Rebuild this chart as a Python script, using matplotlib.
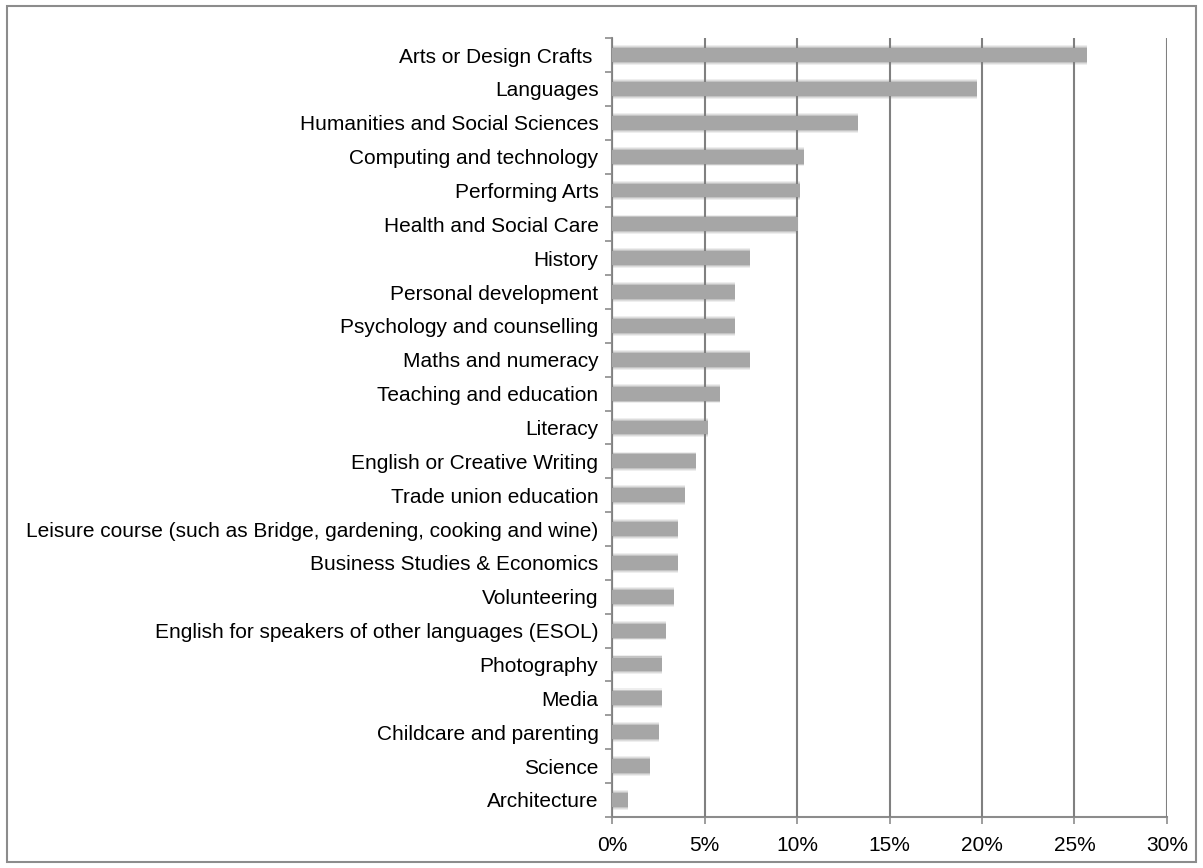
import numpy as np
import matplotlib
matplotlib.use("Agg")
import matplotlib.pyplot as plt
from matplotlib.patches import Rectangle
from matplotlib.ticker import FixedLocator

# subjects, top to bottom as shown
subjects = [
    "Arts or Design Crafts ",
    "Languages",
    "Humanities and Social Sciences",
    "Computing and technology",
    "Performing Arts",
    "Health and Social Care",
    "History",
    "Personal development",
    "Psychology and counselling",
    "Maths and numeracy",
    "Teaching and education",
    "Literacy",
    "English or Creative Writing",
    "Trade union education",
    "Leisure course (such as Bridge, gardening, cooking and wine)",
    "Business Studies & Economics",
    "Volunteering",
    "English for speakers of other languages (ESOL)",
    "Photography",
    "Media",
    "Childcare and parenting",
    "Science",
    "Architecture",
]
share = [25.7, 19.7, 13.3, 10.35, 10.15, 10.05, 7.45, 6.65, 6.65, 7.45, 5.8,
         5.2, 4.55, 3.95, 3.55, 3.55, 3.35, 2.9, 2.7, 2.7, 2.5, 2.05, 0.85]
xticks = [0, 5, 10, 15, 20, 25, 30]
xlabels = ["0%", "5%", "10%", "15%", "20%", "25%", "30%"]

plt.rcParams["font.family"] = ["Liberation Sans", "DejaVu Sans"]

fig = plt.figure(figsize=(12.03, 8.68), dpi=100)
fig.patches.append(Rectangle((0.006, 0.007), 0.988, 0.986, transform=fig.transFigure,
                             fill=False, edgecolor="#8c8c8c", linewidth=1.5))
ax = fig.add_axes([0.509, 0.059, 0.461, 0.897])

y = np.arange(len(subjects))
# soft edges: a few faint layers under the bar
for h, c in [(0.58, "#eeeeee"), (0.52, "#dcdcdc"), (0.47, "#c4c4c4")]:
    ax.barh(y, share, height=h, color=c, zorder=2)
ax.barh(y, share, height=0.41, color="#a6a6a6", zorder=3)

ax.set_ylim(len(subjects) - 0.5, -0.5)
ax.set_xlim(0, 30)
ax.set_xticks(xticks)
ax.set_xticklabels(xlabels, fontsize=15)
ax.set_yticks(y)
ax.set_yticklabels(subjects, fontsize=15)
ax.tick_params(axis="y", which="major", length=0, pad=10)
ax.yaxis.set_minor_locator(FixedLocator(np.arange(-0.5, len(subjects), 1)))
ax.tick_params(axis="y", which="minor", length=5, color="#8c8c8c", width=1.2)
ax.tick_params(axis="x", length=5, color="#8c8c8c", width=1.2, pad=9)

ax.grid(axis="x", color="#808080", linewidth=1.5, zorder=1)
ax.set_axisbelow(False)
for s in ["top", "right"]:
    ax.spines[s].set_visible(False)
for s in ["left", "bottom"]:
    ax.spines[s].set_color("#8c8c8c")
    ax.spines[s].set_linewidth(1.5)

fig.savefig("out.png", dpi=100)
